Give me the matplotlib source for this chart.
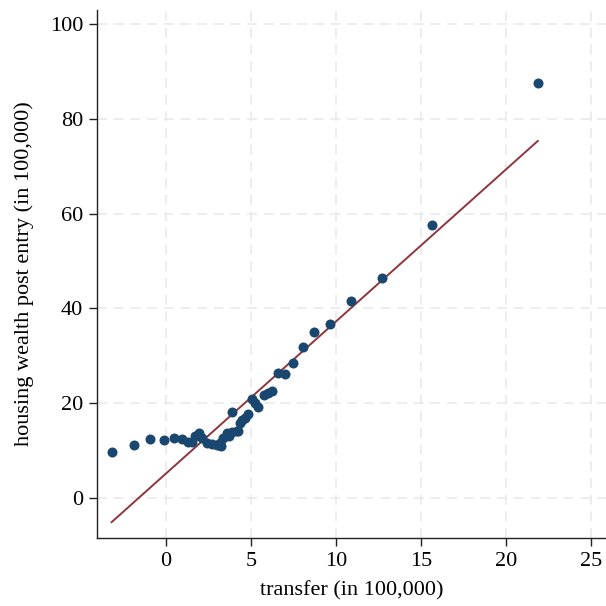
import numpy as np
from matplotlib import pyplot as plt

# binned scatter: transfer vs housing wealth (both in 100,000)
transfer = [-3.20, -1.88, -0.92, -0.10, 0.50, 0.97, 1.31, 1.53, 1.70, 1.94,
            2.12, 2.39, 2.68, 2.98, 3.18, 3.22, 3.37, 3.57, 3.68, 3.87,
            4.16, 4.25, 3.91, 4.36, 4.47, 4.65, 4.84, 5.03, 5.24, 5.43,
            5.76, 6.00, 6.26, 6.60, 7.00, 7.49, 8.03, 8.72, 9.63, 10.87,
            12.70, 15.65, 21.87]
housing = [9.65, 11.09, 12.46, 12.19, 12.57, 12.46, 11.89, 11.76, 12.99, 13.62,
           12.57, 11.68, 11.40, 11.19, 11.68, 10.98, 12.61, 13.66, 12.99, 13.87,
           14.04, 14.15, 18.16, 15.84, 16.47, 16.90, 17.74, 20.80, 20.06, 19.11,
           21.75, 22.18, 22.60, 26.29, 26.19, 28.45, 31.89, 35.00, 36.75, 41.54,
           46.53, 57.61, 87.58]

fit_intercept = 5.16
fit_slope = 3.21

x_ticks = [0, 5, 10, 15, 20, 25]
y_ticks = [0, 20, 40, 60, 80, 100]


def main():
    plt.rcParams['font.family'] = ['Liberation Serif', 'DejaVu Serif']
    fig = plt.figure(figsize=(6.06, 6.06), dpi=100)
    ax = fig.add_axes([0.16, 0.1122, 0.84, 0.8713])

    ax.scatter(transfer, housing, s=52, color="#1a476f", zorder=3, linewidths=0)
    xs = np.array([min(transfer), max(transfer)])
    ax.plot(xs, fit_intercept + fit_slope * xs, color="#90353b", lw=1.4, zorder=2)

    ax.set_xlim(-4.06, 25.88)
    ax.set_ylim(-8.45, 103)
    ax.set_xticks(x_ticks)
    ax.set_yticks(y_ticks)
    ax.grid(True, color="#eaeaea", linestyle=(0, (6, 4)), lw=1.2, zorder=0)
    for side in ["top", "right"]:
        ax.spines[side].set_visible(False)
    for side in ["left", "bottom"]:
        ax.spines[side].set_color("#222222")
        ax.spines[side].set_linewidth(1.0)
    ax.tick_params(direction="out", length=6, width=1, labelsize=16, color="#222222", pad=4)
    ax.set_xlabel("transfer (in 100,000)", fontsize=16, labelpad=7)
    ax.set_ylabel("housing wealth post entry (in 100,000)", fontsize=16, labelpad=11)

    fig.savefig("out.png", dpi=100)


if __name__ == "__main__":
    main()
